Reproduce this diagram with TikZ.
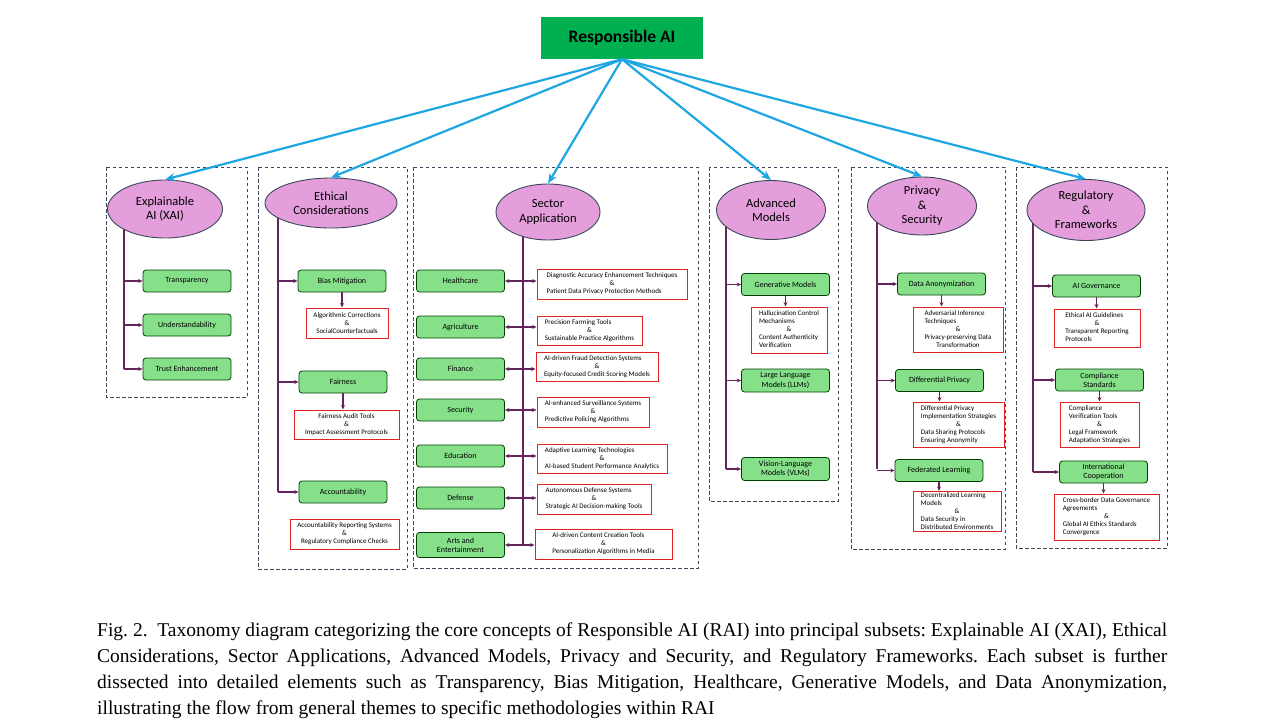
\documentclass[tikz,border=0pt]{standalone}
\usepackage{fontspec}
\setmainfont{Carlito}
\newfontfamily\capfont{Liberation Serif}
\usepackage{xcolor}
\usetikzlibrary{arrows.meta,shapes.geometric,backgrounds}

\definecolor{raigreen}{RGB}{0,176,80}
\definecolor{leafgreen}{RGB}{134,224,138}
\definecolor{orchid}{RGB}{228,158,220}
\definecolor{skyblue}{RGB}{30,166,226}
\definecolor{plum}{RGB}{102,36,92}
\definecolor{boxred}{RGB}{226,34,34}
\definecolor{slate}{RGB}{60,72,90}

\newcommand{\midamp}{\multicolumn{1}{@{}c@{}}{\&}}
\newcommand{\midline}[1]{\multicolumn{1}{@{}c@{}}{#1}}
\newcommand{\lefttab}[1]{\begin{tabular}{@{}l@{}}#1\end{tabular}}

\begin{document}
\frenchspacing
\begin{tikzpicture}[x=1pt,y=-1pt,
  every node/.style={inner sep=0pt},
  topbox/.style={rectangle,fill=raigreen,minimum width=162,minimum height=42,font=\fontsize{17.5}{20}\selectfont\bfseries},
  theme/.style={ellipse,draw=slate,line width=0.9pt,fill=orchid,align=center,font=\fontsize{12.5}{14.5}\selectfont},
  leaf/.style={rectangle,rounded corners=3pt,draw=black!75!green,line width=0.8pt,fill=leafgreen,minimum width=88,minimum height=22,align=center,font=\fontsize{8}{9.5}\selectfont},
  detail/.style={rectangle,draw=boxred,line width=1pt,fill=white,align=center,font=\fontsize{7}{8}\selectfont},
  group/.style={draw=slate,line width=0.8pt,dash pattern=on 3.5pt off 2.5pt},
  feed/.style={draw=skyblue,line width=2.2pt,-{Stealth[length=10pt,width=8pt]}},
  trunk/.style={draw=plum,line width=1.6pt},
  branch/.style={draw=plum,line width=1.2pt,-{Stealth[length=4.5pt,width=4pt]}}]
\useasboundingbox (0,0) rectangle (1273,725);

% dashed groups
\draw[group] (106,167) rectangle (247,397);
\draw[group] (258,167) rectangle (407,569);
\draw[group] (413,167) rectangle (698,568);
\draw[group] (709,167) rectangle (838,501);
\draw[group] (851,167) rectangle (1005,549);
\draw[group] (1016,167) rectangle (1167,548);

\node[topbox] (rai) at (622,38) {Responsible AI};

% themes
\node[theme,minimum width=115,minimum height=58] (xai) at (165,209) {Explainable\\AI (XAI)};
\node[theme,minimum width=132,minimum height=50] (eth) at (331,203) {Ethical\\Considerations};
\node[theme,minimum width=104,minimum height=56] (sec) at (548,212) {Sector\\Application};
\node[theme,minimum width=109,minimum height=59] (adv) at (771,210) {Advanced\\Models};
\node[theme,minimum width=109,minimum height=58] (pri) at (922,206) {Privacy\\\&\\Security};
\node[theme,minimum width=118,minimum height=61] (reg) at (1086,210) {Regulatory\\\&\\Frameworks};

\foreach \t in {xai,eth,sec,adv,pri,reg}
  \draw[feed] (rai.south) -- (\t.north);

% explainable AI
\node[leaf] (tra) at (187,281) {Transparency};
\node[leaf] (und) at (187,325) {Understandability};
\node[leaf] (tru) at (187,369) {Trust Enhancement};
\coordinate (xaibot) at (124,369);

% ethical considerations
\node[leaf] (bia) at (342,281) {Bias Mitigation};
\node[detail,minimum width=82,minimum height=30] (bia-d) at (347,323) {Algorithmic Corrections\\\&\\SocialCounterfactuals};
\node[leaf] (fai) at (343,382) {Fairness};
\node[detail,minimum width=105,minimum height=29] (fai-d) at (346.5,424.5) {Fairness Audit Tools\\\&\\Impact Assessment Protocols};
\node[leaf] (acc) at (343,492) {Accountability};
\node[detail,minimum width=109,minimum height=30] (acc-d) at (344.5,534) {Accountability Reporting Systems\\\&\\Regulatory Compliance Checks};
\coordinate (ethbot) at (278,492);

% sector application
\node[leaf] (hea) at (460.5,281) {Healthcare};
\node[leaf] (agr) at (460.5,327) {Agriculture};
\node[leaf] (fin) at (460.5,369) {Finance};
\node[leaf] (secu) at (460.5,410) {Security};
\node[leaf] (edu) at (460.5,456) {Education};
\node[leaf] (def) at (460.5,498) {Defense};
\node[leaf,minimum height=25] (art) at (460.5,545) {Arts and\\Entertainment};
\coordinate (secbot) at (523,545);
\node[detail,minimum width=150,minimum height=30] (hea-d) at (612,284) {\lefttab{Diagnostic Accuracy Enhancement Techniques\\\midamp\\Patient Data Privacy Protection Methods}};
\node[detail,minimum width=105,minimum height=29] (agr-d) at (589.5,330.5) {\lefttab{Precision Farming Tools\\\midamp\\Sustainable Practice Algorithms}};
\node[detail,minimum width=122,minimum height=29] (fin-d) at (597,366.5) {\lefttab{AI-driven Fraud Detection Systems\\\midamp\\Equity-focused Credit Scoring Models}};
\node[detail,minimum width=112,minimum height=30] (secu-d) at (593,412) {\lefttab{AI-enhanced Surveillance Systems\\\midamp\\Predictive Policing Algorithms}};
\node[detail,minimum width=130,minimum height=29] (edu-d) at (602,458.5) {\lefttab{Adaptive Learning Technologies\\\midamp\\AI-based Student Performance Analytics}};
\node[detail,minimum width=114,minimum height=30] (def-d) at (594,499) {\lefttab{Autonomous Defense Systems\\\midamp\\Strategic AI Decision-making Tools}};
\node[detail,minimum width=137,minimum height=30] (art-d) at (603.5,544) {\lefttab{AI-driven Content Creation Tools\\\midamp\\Personalization Algorithms in Media}};

% advanced models
\node[leaf] (gen) at (785.5,284.5) {Generative Models};
\node[detail,minimum width=76,minimum height=46] (gen-d) at (789,330) {\lefttab{Hallucination Control\\Mechanisms\\\midamp\\Content Authenticity\\Verification}};
\node[leaf,minimum height=23] (llm) at (785.5,380.5) {Large Language\\Models (LLMs)};
\node[leaf,minimum height=23] (vlm) at (785.5,469) {Vision-Language\\Models (VLMs)};
\coordinate (advbot) at (726,469);

% privacy and security
\node[leaf] (dan) at (941.5,284) {Data Anonymization};
\node[detail,minimum width=90,minimum height=45] (dan-d) at (958,329.5) {\lefttab{Adversarial Inference\\Techniques\\\midamp\\\midline{Privacy-preserving Data}\\\midline{Transformation}}};
\node[leaf] (dif) at (939.5,380.5) {Differential Privacy};
\node[detail,minimum width=91,minimum height=45] (dif-d) at (958.5,424.5) {\lefttab{Differential Privacy\\Implementation Strategies\\\midamp\\Data Sharing Protocols\\Ensuring Anonymity}};
\node[leaf] (fed) at (939,470.5) {Federated Learning};
\node[detail,minimum width=88,minimum height=37] (fed-d) at (957,511.5) {\lefttab{Decentralized Learning\\Models\\\midamp\\Data Security in\\Distributed Environments}};
\coordinate (pribot) at (877,469);

% regulatory and frameworks
\node[leaf] (gov) at (1096.5,286) {AI Governance};
\node[detail,minimum width=86,minimum height=38] (gov-d) at (1097,328) {\lefttab{Ethical AI Guidelines\\\midamp\\Transparent Reporting\\Protocols}};
\node[leaf] (com) at (1099.5,380) {Compliance\\Standards};
\node[detail,minimum width=79,minimum height=45] (com-d) at (1099.5,424.5) {\lefttab{Compliance\\Verification Tools\\\midamp\\Legal Framework\\Adaptation Strategies}};
\node[leaf] (int) at (1103.5,472) {International\\Cooperation};
\node[detail,minimum width=105,minimum height=46] (int-d) at (1106.5,517) {\lefttab{Cross-border Data Governance\\Agreements\\\midamp\\Global AI Ethics Standards\\Convergence}};
\coordinate (regbot) at (1033,472);

% trunks behind the themes
\begin{scope}[on background layer]
\draw[trunk] (xai.center -| xaibot) -- (xaibot);
\draw[trunk] (eth.center -| ethbot) -- (ethbot);
\draw[trunk] (sec.center -| secbot) -- (secbot);
\draw[trunk] (adv.center -| advbot) -- (advbot);
\draw[trunk] (pri.center -| pribot) -- (pribot);
\draw[trunk] (reg.center -| regbot) -- (regbot);
\end{scope}

% branches
\foreach \s in {tra,und,tru} \draw[branch] (xaibot |- \s.west) -- (\s.west);
\foreach \s in {bia,fai,acc} \draw[branch] (ethbot |- \s.west) -- (\s.west);
\foreach \s in {gen,llm,vlm} \draw[branch] (advbot |- \s.west) -- (\s.west);
\foreach \s in {dan,dif,fed} \draw[branch] (pribot |- \s.west) -- (\s.west);
\foreach \s in {gov,com,int} \draw[branch] (regbot |- \s.west) -- (\s.west);
\foreach \s in {hea,agr,fin,secu,edu,def,art} {
  \draw[branch] (secbot |- \s.east) -- (\s.east);
  \draw[branch] (secbot |- \s.east) -- (\s.east -| \s-d.west);
}
\foreach \s in {bia,fai,gen,dan,dif,fed,gov,com,int}
  \draw[branch] (\s.south) -- (\s.south |- \s-d.north);

% caption
\node[anchor=north west,align=left,font=\capfont\fontsize{19.5}{26}\selectfont] (cap) at (97,623)
  {\makebox[1070pt][s]{Fig.~2.\hskip 0.5em Taxonomy diagram categorizing the core concepts of Responsible AI (RAI) into principal subsets: Explainable AI (XAI), Ethical}\\
   \makebox[1070pt][s]{Considerations, Sector Applications, Advanced Models, Privacy and Security, and Regulatory Frameworks. Each subset is further}\\
   \makebox[1070pt][s]{dissected into detailed elements such as Transparency, Bias Mitigation, Healthcare, Generative Models, and Data Anonymization,}\\
   illustrating the flow from general themes to specific methodologies within RAI};
\end{tikzpicture}
\end{document}
